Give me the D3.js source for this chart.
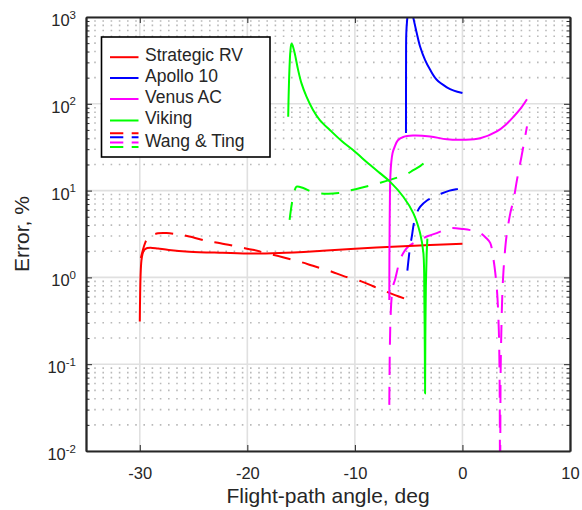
<!DOCTYPE html>
<html><head><meta charset="utf-8">
<script src="https://cdn.jsdelivr.net/npm/d3@7"></script>
<style>
body{margin:0;background:#fff}
svg{display:block}
text{font-family:"Liberation Sans",Arial,Helvetica,sans-serif;fill:#262626}
</style>
</head><body>
<svg id="c" width="582" height="510"></svg>
<script>
// ---- data ----
const xTicks = [-30, -20, -10, 0, 10];
const xTickLabels = ["-30", "-20", "-10", "0", "10"];
const yDecades = [0.01, 0.1, 1, 10, 100, 1000];
const yTickExps = ["-2", "-1", "0", "1", "2", "3"];
const legendNames = ["Strategic RV", "Apollo 10", "Venus AC", "Viking", "Wang & Ting"];
const colors = ["#ff0000", "#0000ff", "#ff00ff", "#00ff00"];
const xLabel = "Flight-path angle, deg";
const yLabel = "Error, %";

const strategicX = [-30, -29.97, -29.92, -29.85, -29.75, -29.6, -29.3, -29.0, -28.3, -27.3, -25.4, -22.3, -19.5, -17, -13, -10, -6, -3, 0];
const strategicY = [0.31, 0.6, 1.1, 1.55, 1.85, 2.06, 2.18, 2.2, 2.15, 2.07, 1.98, 1.92, 1.88, 1.91, 2.03, 2.14, 2.27, 2.36, 2.44];
const strategicWX = [-29.9, -29.7, -29.5, -29.3, -28.9, -28.3, -27.5, -26.6, -25.4, -23.7, -22.5, -20.7, -19.5, -18.2, -16.7, -15, -13.9, -12.2, -11.1, -9.4, -8.3, -6.74, -5.03];
const strategicWY = [1.67, 2.1, 2.5, 2.8, 3.05, 3.22, 3.24, 3.15, 2.96, 2.62, 2.48, 2.23, 2.08, 1.9, 1.71, 1.5, 1.36, 1.17, 1.04, 0.9, 0.79, 0.66, 0.55];

const apolloX = [-5.25, -5.245, -5.24, -5.22, -5.15, -5.05, -4.9, -4.75, -4.6, -4.4, -4.25, -3.94, -3.48, -3.0, -2.39, -1.45, -0.8, 0];
const apolloY = [46, 200, 450, 650, 900, 1150, 1400, 1250, 1020, 790, 653, 457, 321, 246, 189, 155, 142, 133];
const apolloWX = [-5.12, -4.9, -4.7, -4.5, -4.25, -3.94, -3.3, -2.7, -2.0, -1.2, -0.5, 0];
const apolloWY = [1.2, 2.1, 3.0, 4.3, 5.5, 6.5, 7.7, 8.4, 9.2, 10.0, 10.4, 10.6];

const venusX = [-6.8, -6.79, -6.77, -6.74, -6.7, -6.62, -6.5, -6.3, -6.0, -5.5, -4.6, -3.0, -1.45, 0.1, 1.65, 3.2, 4.0, 4.75, 5.4, 6.0];
const venusY = [0.55, 1.5, 4, 9, 15, 21, 27, 32, 38, 41.5, 43, 42, 39, 38.5, 40, 48, 57, 71, 88, 113];
const venusWX = [-6.8, -6.78, -6.75, -6.7, -6.6, -6.45, -6.27, -6.0, -5.8, -5.4, -5.03, -4.5, -3.94, -3.2, -2.39, -1.15, 0.09, 1.0, 1.65, 2.2, 2.58, 2.89, 3.1, 3.25, 3.38, 3.45, 3.5, 3.55, 3.62, 3.7, 3.78, 3.89, 4.1, 4.45, 4.75, 5.07, 5.5, 6.0];
const venusWY = [0.034, 0.07, 0.15, 0.3, 0.55, 0.8, 0.94, 1.3, 1.6, 2.0, 2.27, 2.5, 2.71, 3.0, 3.24, 3.7, 3.6, 3.45, 3.24, 2.85, 2.5, 1.6, 1.0, 0.6, 0.25, 0.08, 0.003, 0.08, 0.25, 0.6, 1.0, 1.6, 3.0, 5.5, 7.8, 13.3, 25, 55];

const vikingX = [-16.2, -16.17, -16.13, -16.08, -16.0, -15.9, -15.82, -15.6, -15.28, -14.97, -14.5, -13.89, -13.26, -12.33, -11.2, -10.2, -8.6, -7.67, -6.74, -5.5, -4.57, -3.94, -3.63, -3.54, -3.5, -3.475, -3.45, -3.4, -3.33, -3.26];
const vikingY = [71, 110, 170, 260, 400, 490, 480, 384, 246, 173, 121, 85, 65, 50, 37, 29.5, 19.8, 15.9, 12.7, 8.5, 5.5, 3.24, 1.9, 0.55, 0.15, 0.046, 0.2, 0.8, 1.8, 2.8];
const vikingWX = [-16.07, -15.95, -15.8, -15.6, -15.43, -14.8, -13.9, -12.6, -11.5, -10.8, -9.5, -7.67, -6.74, -5.18, -4.57, -3.9, -3.32];
const vikingWY = [4.6, 6.0, 7.8, 10.0, 11.1, 10.7, 9.6, 9.2, 9.4, 9.8, 10.7, 12.3, 13.3, 15.5, 17.2, 19.3, 22];

// ---- layout ----
const W = 582, H = 510;
const L = 86, R = 570, T = 17, B = 451;
const svg = d3.select("#c");
const x = d3.scaleLinear().domain([-35, 10]).range([L, R]);
const y = d3.scaleLog().domain([0.01, 1000]).range([B, T]);

const minorVals = [];
yDecades.slice(0, -1).forEach(d => { for (let k = 2; k <= 9; k++) minorVals.push(k * d); });

const axisColor = "#262626";

// grid
const grid = svg.append("g");
grid.selectAll("line.minor").data(minorVals).join("line")
  .attr("x1", L).attr("x2", R).attr("y1", d => y(d)).attr("y2", d => y(d))
  .attr("stroke", "#b9b9b9").attr("stroke-width", 1.6).attr("stroke-dasharray", "1.6,6.6");
grid.selectAll("line.majy").data(yDecades).join("line")
  .attr("x1", L).attr("x2", R).attr("y1", d => y(d)).attr("y2", d => y(d))
  .attr("stroke", "#e0e0e0").attr("stroke-width", 1.6);
grid.selectAll("line.majx").data(xTicks).enter().append("line")
  .attr("y1", T).attr("y2", B).attr("x1", d => x(d)).attr("x2", d => x(d))
  .attr("stroke", "#e0e0e0").attr("stroke-width", 1.6);

// curves
svg.append("clipPath").attr("id", "clip").append("rect")
  .attr("x", L).attr("y", T).attr("width", R - L).attr("height", B - T);
const plot = svg.append("g").attr("clip-path", "url(#clip)");
const line = d3.line().x(d => x(d[0])).y(d => y(d[1])).curve(d3.curveCatmullRom.alpha(0.5));
const zip = (a, b) => a.map((v, i) => [v, b[i]]);
const series = [
  {xs: strategicWX, ys: strategicWY, c: 0, dash: true},
  {xs: apolloWX, ys: apolloWY, c: 1, dash: true},
  {xs: venusWX, ys: venusWY, c: 2, dash: true},
  {xs: vikingWX, ys: vikingWY, c: 3, dash: true},
  {xs: strategicX, ys: strategicY, c: 0, dash: false},
  {xs: apolloX, ys: apolloY, c: 1, dash: false},
  {xs: venusX, ys: venusY, c: 2, dash: false},
  {xs: vikingX, ys: vikingY, c: 3, dash: false}
];
series.forEach(s => {
  plot.append("path").attr("d", line(zip(s.xs, s.ys)))
    .attr("fill", "none").attr("stroke", colors[s.c]).attr("stroke-width", 2)
    .attr("stroke-linejoin", "round")
    .attr("stroke-dasharray", s.dash ? "18,12" : null);
});

// axes
function styleAxis(g) {
  g.selectAll("path.domain").attr("stroke", axisColor).attr("stroke-width", 1.8);
  g.selectAll(".tick line").attr("stroke", axisColor).attr("stroke-width", 1);
}
const gx = svg.append("g").attr("transform", `translate(0,${B})`)
  .call(d3.axisBottom(x).tickValues(xTicks).tickFormat((d, i) => xTickLabels[i])
    .tickSize(-6).tickSizeOuter(0).tickPadding(16));
gx.selectAll("text").attr("font-size", 16.5).attr("fill", axisColor).attr("font-family", "Liberation Sans, Arial, sans-serif");
styleAxis(gx);
const gxt = svg.append("g").attr("transform", `translate(0,${T})`)
  .call(d3.axisTop(x).tickValues(xTicks).tickFormat("").tickSize(-6).tickSizeOuter(0));
styleAxis(gxt);

const gy = svg.append("g").attr("transform", `translate(${L},0)`)
  .call(d3.axisLeft(y).tickValues(yDecades).tickFormat("").tickSize(-6).tickSizeOuter(0));
styleAxis(gy);
gy.selectAll(".tick").each(function (d, i) {
  const t = d3.select(this).append("text").attr("x", -10).attr("y", 8.5)
    .attr("text-anchor", "end").attr("font-size", 16.5).attr("fill", axisColor);
  t.append("tspan").text("10");
  t.append("tspan").attr("dy", -7.5).attr("font-size", 11.5).text(yTickExps[i]);
});
const gym = svg.append("g").attr("transform", `translate(${L},0)`)
  .call(d3.axisLeft(y).tickValues(minorVals).tickFormat("").tickSize(-3.5).tickSizeOuter(0));
styleAxis(gym);
const gyr = svg.append("g").attr("transform", `translate(${R},0)`)
  .call(d3.axisRight(y).tickValues(yDecades).tickFormat("").tickSize(-6).tickSizeOuter(0));
styleAxis(gyr);
const gyrm = svg.append("g").attr("transform", `translate(${R},0)`)
  .call(d3.axisRight(y).tickValues(minorVals).tickFormat("").tickSize(-3.5).tickSizeOuter(0));
styleAxis(gyrm);

// axis labels
svg.append("text").attr("x", (L + R) / 2).attr("y", 503).attr("text-anchor", "middle")
  .attr("font-size", 21).text(xLabel);
svg.append("text").attr("transform", `translate(29,${(T + B) / 2}) rotate(-90)`)
  .attr("text-anchor", "middle").attr("font-size", 21).text(yLabel);

// legend
const lg = svg.append("g");
lg.append("rect").attr("x", 101.5).attr("y", 37).attr("width", 168.5).attr("height", 120)
  .attr("fill", "#fff").attr("stroke", "#000").attr("stroke-width", 1.6);
const rowBase = [60.7, 81.5, 102.5, 124, 146.5];
legendNames.forEach((name, i) => {
  lg.append("text").attr("x", 145).attr("y", rowBase[i]).attr("font-size", 17.5)
    .attr("fill", "#000").text(name);
  if (i < 4) {
    lg.append("line").attr("x1", 110).attr("x2", 138.5)
      .attr("y1", rowBase[i] - 3.5).attr("y2", rowBase[i] - 3.5)
      .attr("stroke", colors[i]).attr("stroke-width", 2);
  }
});
const wangOff = [-13.2, -9.2, -4, 0.6];
colors.forEach((c, j) => {
  lg.append("line").attr("x1", 110).attr("x2", 138.5)
    .attr("y1", rowBase[4] + wangOff[j]).attr("y2", rowBase[4] + wangOff[j])
    .attr("stroke", c).attr("stroke-width", 2).attr("stroke-dasharray", "13.3,8.4");
});
</script>
</body></html>
